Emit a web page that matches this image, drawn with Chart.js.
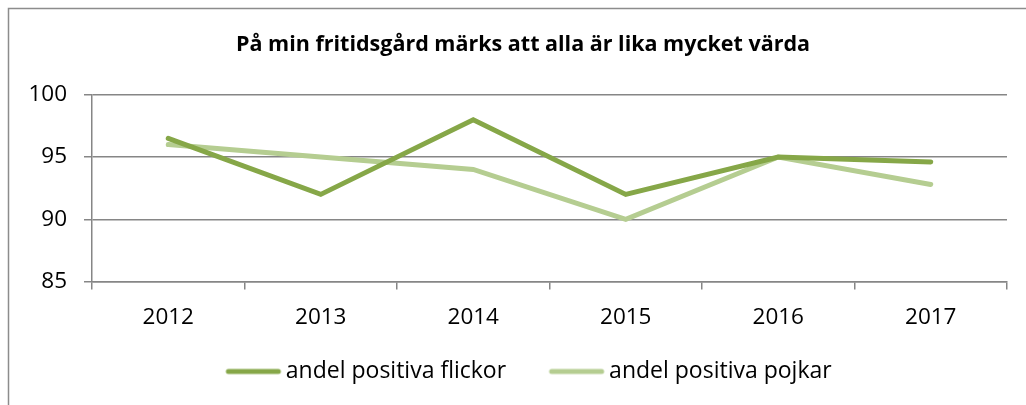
<!DOCTYPE html>
<html>
<head>
<meta charset="utf-8">
<script src="https://cdn.jsdelivr.net/npm/chart.js@4/dist/chart.umd.min.js"></script>
<style>
  html, body { margin: 0; padding: 0; background: #fff; overflow: hidden; }
  #wrap { position: absolute; left: 0; top: 0; width: 1026px; height: 405px; overflow: hidden; }
</style>
</head>
<body>
<!-- the reference is a crop: the chart runs on a little past the right edge -->
<div id="wrap"><canvas id="chart" width="1046" height="405"></canvas></div>
<script>
// data
const years = ["2012", "2013", "2014", "2015", "2016", "2017"];
const flickor = [96.5, 92, 98, 92, 95, 94.6];
const pojkar = [96, 95, 94, 90, 95, 92.8];
const yTicks = [85, 90, 95, 100];

const FONT = "'Open Sans', 'Liberation Sans', sans-serif";
const DARK = "#86a748";
const LIGHT = "#b5cd91";

// legend marker: thick round-capped line, pushed right so it sits close to the text
function legendMark(color) {
    const c = document.createElement("canvas");
    c.width = 110;
    c.height = 10;
    const g = c.getContext("2d");
    g.strokeStyle = color;
    g.lineWidth = 5;
    g.lineCap = "round";
    g.beginPath();
    g.moveTo(39, 5);
    g.lineTo(89, 5);
    g.stroke();
    return c;
}

// grey frame, only top and left show inside the picture
const framePlugin = {
    id: "frame",
    beforeDraw(chart) {
        const ctx = chart.ctx;
        ctx.save();
        ctx.fillStyle = "#fff";
        ctx.fillRect(0, 0, chart.width, chart.height);
        ctx.strokeStyle = "#8c8c8c";
        ctx.lineWidth = 1.5;
        ctx.strokeRect(8.5, 8.5, 1060, 420);
        ctx.restore();
    }
};

new Chart(document.getElementById("chart"), {
    type: "line",
    data: {
        labels: years,
        datasets: [
            {
                label: "andel positiva flickor",
                data: flickor,
                borderColor: DARK,
                backgroundColor: DARK,
                borderWidth: 5,
                borderCapStyle: "round",
                pointRadius: 0,
                pointStyle: legendMark(DARK),
                tension: 0
            },
            {
                label: "andel positiva pojkar",
                data: pojkar,
                borderColor: LIGHT,
                backgroundColor: LIGHT,
                borderWidth: 5,
                borderCapStyle: "round",
                pointRadius: 0,
                pointStyle: legendMark(LIGHT),
                tension: 0
            }
        ]
    },
    options: {
        responsive: false,
        animation: false,
        layout: { padding: { left: 0, right: 0, top: 0, bottom: 12 } },
        plugins: {
            title: {
                display: true,
                text: "På min fritidsgård märks att alla är lika mycket värda",
                color: "#000",
                font: { family: FONT, size: 21.5, weight: "bold" },
                padding: { top: 32, bottom: 37 }
            },
            legend: {
                position: "bottom",
                labels: {
                    color: "#000",
                    font: { family: FONT, size: 23 },
                    usePointStyle: true,
                    pointStyleWidth: 60,
                    padding: 31.5
                }
            },
            tooltip: { enabled: false }
        },
        scales: {
            x: {
                offset: true,
                grid: {
                    offset: true,
                    drawOnChartArea: false,
                    color: "#868686",
                    tickLength: 8,
                    lineWidth: 1.5
                },
                border: { color: "#868686", width: 1.5 },
                ticks: { color: "#000", font: { family: FONT, size: 22.5 }, padding: 15 },
                afterFit(scale) { scale.height = 47; }
            },
            y: {
                min: 85,
                max: 100,
                afterBuildTicks(scale) { scale.ticks = yTicks.map(v => ({ value: v })); },
                grid: { color: "#868686", lineWidth: 1.5, tickLength: 8 },
                border: { color: "#868686", width: 1.5 },
                ticks: { color: "#000", font: { family: FONT, size: 22.5 }, padding: 17 },
                afterFit(scale) { scale.width = 92; }
            },
            // empty strip on the right so the plot ends where the reference does
            yRight: {
                position: "right",
                display: true,
                grid: { display: false },
                border: { display: false },
                ticks: { display: false },
                afterFit(scale) { scale.width = 39; }
            }
        }
    },
    plugins: [framePlugin]
});
</script>
</body>
</html>
